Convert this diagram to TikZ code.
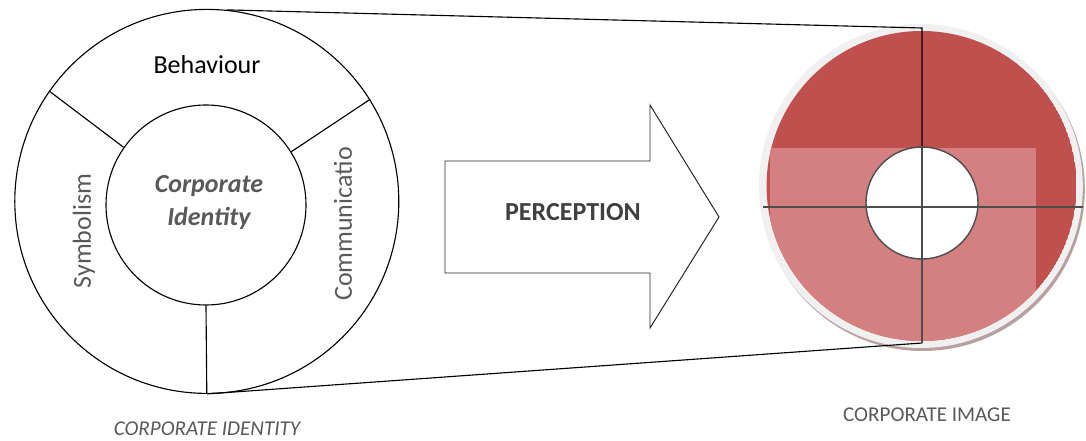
\documentclass[tikz,border=0pt]{standalone}
\usepackage{fontspec}
\setmainfont{Carlito}
\usetikzlibrary{positioning}
\definecolor{imgred}{RGB}{192,80,77}
\definecolor{imgpale}{RGB}{212,128,128}
\definecolor{ringgray}{RGB}{240,240,240}
\definecolor{shadowred}{RGB}{185,160,160}
\definecolor{txtgray}{RGB}{89,89,89}
\definecolor{txtdark}{RGB}{64,64,64}
\definecolor{hubgray}{RGB}{77,77,77}

\begin{document}
\begin{tikzpicture}[
  ring/.style={circle,draw=black,line width=0.8pt,inner sep=0pt},
  big/.style={font=\fontsize{18.5}{23.5}\selectfont},
  small/.style={font=\fontsize{15}{18}\selectfont,text=txtgray},
  thinline/.style={line width=0.8pt}]
\useasboundingbox (0,0) rectangle (27.15,11.025);

% identity wheel
\node[ring,minimum size=9.6cm] (outer) at (5.17,5.99) {};
\node[ring,minimum size=5cm] (inner) at (5.15,5.9) {};
\foreach \a in {145,32,270}
  \draw[thinline] (inner.\a) -- (outer.\a);
\node[big] (behav) at (5.175,9.4) {Behaviour};
\node[big,text=txtgray,rotate=90] (symb) at (2.1,5.25) {Symbolism};
\node[big,text=txtgray,rotate=90] (comm) at (8.575,5.425) {Communicatio};
\node[big,text=txtgray,align=center,font=\fontsize{18.5}{23.5}\selectfont\bfseries\itshape] (cid) at (5.225,5.95) {Corporate\\Identity};
\node[small,font=\fontsize{15}{18}\selectfont\itshape] (cidlbl) at (5.175,0.3) {CORPORATE IDENTITY};

% perception arrow
\draw[line width=0.7pt,draw=black!85,fill=white] (11.125,7.0) -- (16.25,7.0) -- (16.25,8.4) -- (17.975,5.6)
  -- (16.25,2.825) -- (16.25,4.2) -- (11.125,4.2) -- cycle;
\node[big,text=txtdark,font=\fontsize{18.5}{23.5}\selectfont\bfseries] (perc) at (14.325,5.725) {PERCEPTION};

% image disc
\fill[shadowred] (23.07,6.3) circle (4.05);
\fill[ringgray] (23.02,6.375) circle (4.05);
\begin{scope}
\clip (23.04,6.375) circle (3.875);
\fill[imgred] (23.04,6.375) circle (3.875);
\fill[imgpale] (19.25,7.325) rectangle (25.9,2.0);
\end{scope}
\node[circle,draw=hubgray,line width=1pt,fill=white,inner sep=0pt,minimum size=2.8cm] (hub) at (23.05,5.95) {};
\node[small] (imglbl) at (23.175,0.65) {CORPORATE IMAGE};

% zoom connectors
\coordinate (topc) at (23.05,10.325);
\coordinate (botc) at (23.05,2.45);
\coordinate (hl) at (19.075,5.85);
\coordinate (hr) at (27.075,5.85);
\draw[thinline] (outer.84) -- (topc) -- (hub.north);
\draw[thinline] (outer.270) -- (botc);
\draw[thinline,hubgray] (botc) -- (topc |- hub.north);
\draw[thinline,hubgray] (hl) -- (hr);

\end{tikzpicture}
\end{document}
